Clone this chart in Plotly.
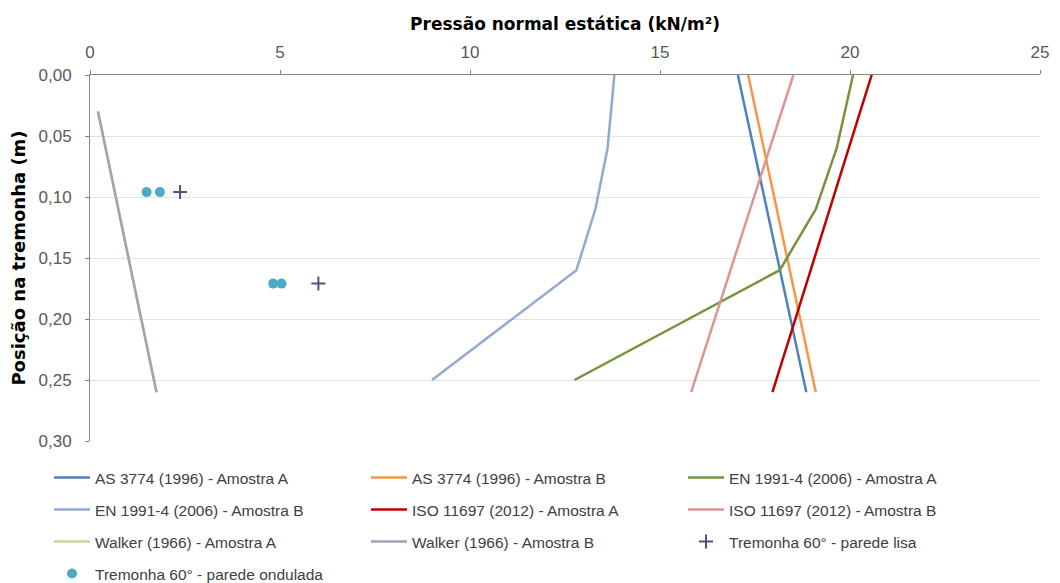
import plotly.graph_objects as go

# Line series: (pressure kN/m², position m)
as_a_x = [17.05, 18.85]; as_a_y = [0.00, 0.26]
as_b_x = [17.32, 19.10]; as_b_y = [0.00, 0.26]
en_a_x = [20.08, 19.65, 19.10, 18.15, 12.75]; en_a_y = [0.00, 0.06, 0.11, 0.16, 0.25]
en_b_x = [13.80, 13.62, 13.30, 12.80, 9.00]; en_b_y = [0.00, 0.06, 0.11, 0.16, 0.25]
iso_a_x = [20.57, 17.96]; iso_a_y = [0.00, 0.26]
iso_b_x = [18.51, 15.82]; iso_b_y = [0.00, 0.26]
walker_a_x = [0.21, 1.75]; walker_a_y = [0.03, 0.26]
walker_b_x = [0.21, 1.75]; walker_b_y = [0.03, 0.26]

# Experimental points
lisa_x = [2.37, 6.01]; lisa_y = [0.096, 0.171]
ond_x = [1.49, 1.84, 4.82, 5.04]; ond_y = [0.096, 0.096, 0.171, 0.171]

x_ticks = [0, 5, 10, 15, 20, 25]
y_ticks = [0.00, 0.05, 0.10, 0.15, 0.20, 0.25, 0.30]

lines = [
    ("AS 3774 (1996) - Amostra A", as_a_x, as_a_y, "#4F81BD", "legend"),
    ("AS 3774 (1996) - Amostra B", as_b_x, as_b_y, "#F79646", "legend"),
    ("EN 1991-4 (2006) - Amostra A", en_a_x, en_a_y, "#77933C", "legend"),
    ("EN 1991-4 (2006) - Amostra B", en_b_x, en_b_y, "#95A9D0", "legend2"),
    ("ISO 11697 (2012) - Amostra A", iso_a_x, iso_a_y, "#C00000", "legend2"),
    ("ISO 11697 (2012) - Amostra B", iso_b_x, iso_b_y, "#D99694", "legend2"),
    ("Walker (1966) - Amostra A", walker_a_x, walker_a_y, "#C4D79B", "legend3"),
    ("Walker (1966) - Amostra B", walker_b_x, walker_b_y, "#A6A0B4", "legend3"),
]

fig = go.Figure()
for name, xs, ys, col, lg in lines:
    fig.add_trace(go.Scatter(x=xs, y=ys, mode="lines", name=name, legend=lg,
                             line=dict(color=col, width=2.5)))

fig.add_trace(go.Scatter(x=lisa_x, y=lisa_y, mode="markers", legend="legend3",
                         name="Tremonha 60° - parede lisa",
                         marker=dict(symbol="cross-thin", size=10,
                                     line=dict(color="#604A7B", width=2),
                                     color="#604A7B")))
fig.add_trace(go.Scatter(x=ond_x, y=ond_y, mode="markers", legend="legend4",
                         name="Tremonha 60° - parede ondulada",
                         marker=dict(symbol="circle", size=10, color="#4BACC6")))

W, H = 1052, 575  # page body has an 8px margin


def leg(row_center_page_y):
    return dict(orientation="h", xref="container", yref="container",
                x=41 / W, y=1 - (row_center_page_y - 8) / H,
                xanchor="left", yanchor="middle",
                entrywidth=266, entrywidthmode="pixels", itemwidth=36,
                font=dict(size=15.5, color="#404040",
                          family="Liberation Sans, Arial, sans-serif"),
                bgcolor="rgba(0,0,0,0)", traceorder="normal")


fig.update_layout(
    width=W, height=H,
    margin=dict(l=82, r=20, t=67, b=142, autoexpand=False),
    paper_bgcolor="white", plot_bgcolor="white",
    separators=",.",
    font=dict(family="Liberation Sans, Arial, sans-serif", color="#404040"),
    showlegend=True,
    legend=leg(478), legend2=leg(510), legend3=leg(542), legend4=leg(574),
)
fig.update_xaxes(
    side="top", range=[0, 25], tickvals=x_ticks, automargin=False,
    showgrid=False, showline=True, linecolor="#868686", linewidth=1,
    ticks="outside", ticklen=4, tickcolor="#868686", ticklabelstandoff=5,
    tickfont=dict(size=17, color="#595959"), zeroline=False,
    title=dict(text="<b>Pressão normal estática (kN/m²)</b>",
               font=dict(size=17, color="black", family="DejaVu Sans, sans-serif"),
               standoff=8),
)
fig.update_yaxes(
    range=[0.30, 0.0], tickvals=y_ticks, tickformat=".2f", automargin=False,
    showgrid=True, gridcolor="#E3E3E3", gridwidth=1,
    showline=True, linecolor="#868686", linewidth=1,
    ticks="outside", ticklen=4, tickcolor="#868686", ticklabelstandoff=10,
    tickfont=dict(size=17, color="#595959"), zeroline=False,
    title=dict(text="<b>Posição na tremonha (m)</b>",
               font=dict(size=18, color="black", family="DejaVu Sans, sans-serif"),
               standoff=10),
)

fig.write_html("out.html")
